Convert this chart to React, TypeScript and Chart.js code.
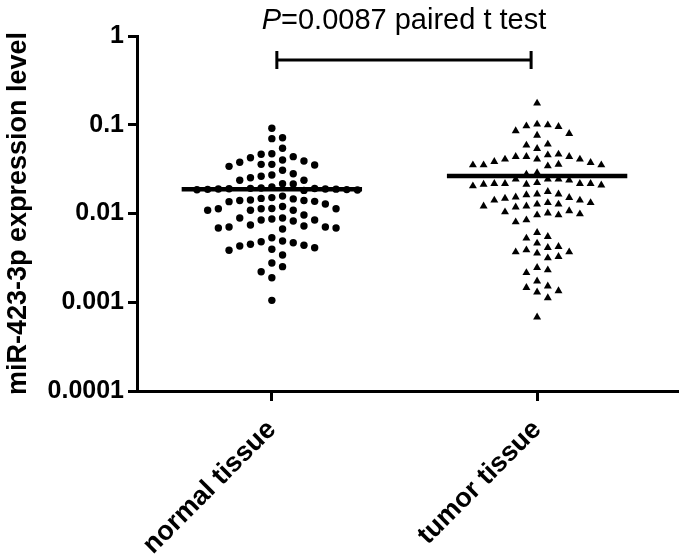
import React, { useEffect, useRef } from 'react';
import { Chart, registerables } from 'chart.js';

Chart.register(...registerables);

// ---------------- data ----------------
const categories = ['normal tissue', 'tumor tissue'];
const categoryPositions = [1, 2];

const yTickValues = [0.0001, 0.001, 0.01, 0.1, 1];
const yTickLabels = ['0.0001', '0.001', '0.01', '0.1', '1'];

const normalValues = [
  0.0912, 0.0697, 0.0715, 0.0543, 0.0425, 0.0472, 0.0465, 0.0401, 0.0437, 0.0391,
  0.0358, 0.0352, 0.0358, 0.0378, 0.034, 0.0307, 0.0272, 0.0263, 0.0281, 0.0237,
  0.0237, 0.0253, 0.0215, 0.0217,
  0.0199, 0.0192, 0.0189, 0.0194, 0.0186, 0.019, 0.0188, 0.0185, 0.0184, 0.0191,
  0.0187, 0.0182, 0.0189,
  0.0157, 0.0151, 0.0148, 0.0146, 0.0142, 0.0137, 0.0128, 0.0136, 0.014, 0.014,
  0.012,
  0.0114, 0.0113, 0.0109, 0.0109, 0.0109, 0.0113, 0.0113,
  0.00962, 0.0089, 0.00845, 0.00823, 0.00845, 0.00867, 0.0089,
  0.00687, 0.00742, 0.00687, 0.00723, 0.00669, 0.00705, 0.00705,
  0.00534, 0.00481, 0.0045, 0.0043, 0.00395, 0.00385, 0.00412, 0.00438, 0.00469, 0.0049,
  0.00341, 0.00277, 0.00252, 0.00221, 0.00189, 0.00105,
];

const tumorValues = [
  0.1745,
  0.0994, 0.0951, 0.0793, 0.0851, 0.076, 0.0968, 0.1012,
  0.0602, 0.0587, 0.0537,
  0.0456, 0.0437, 0.0437, 0.0408, 0.0408, 0.0437, 0.0465, 0.0408,
  0.0358, 0.0352, 0.0343, 0.0384, 0.0352, 0.0352, 0.0374,
  0.0288, 0.0277,
  0.0243, 0.0213, 0.0243, 0.0209, 0.0217, 0.0217, 0.0217, 0.0217, 0.0222, 0.0204, 0.0237, 0.0213, 0.0243,
  0.0176, 0.0165, 0.0162, 0.0165,
  0.0151, 0.0141, 0.0132, 0.0127, 0.0121, 0.0118, 0.0121, 0.0127, 0.0132, 0.0141, 0.0148, 0.0153,
  0.0107, 0.0101, 0.00962, 0.00845, 0.00802, 0.00962, 0.00987, 0.0104,
  0.00608, 0.00548, 0.00526, 0.00462, 0.00423,
  0.00412, 0.00368, 0.00356, 0.00315, 0.00326, 0.00368, 0.00388,
  0.00231, 0.00215, 0.00245,
  0.00173, 0.00152, 0.00146, 0.0013, 0.00134,
  0.00112,
  0.00068,
];

const groupMeans = [0.0188, 0.0265];

const pValueLabel = 'P';
const pValueRest = '=0.0087 paired t test';
const bracketLevel = 0.537;

const yAxisTitle = 'miR-423-3p expression level';

// ---------------- style / layout constants ----------------
const W = 683;
const H = 559;
const FONT = '"Liberation Sans", Arial, Helvetica, sans-serif';
const COL_SPACING = 10.7; // px between swarm columns
const MIN_GAP = 10; // px vertical gap in one column
const MEAN_HALF_WIDTH = 0.34; // x units

function layoutSwarm(chart: any) {
  const xs = chart.scales.x;
  const ys = chart.scales.y;
  const groups = [normalValues, tumorValues];
  groups.forEach((vals, gi) => {
    const cx = xs.getPixelForValue(categoryPositions[gi]);
    const order = vals.map((_, i) => i).sort((a, b) => vals[b] - vals[a]);
    const cols = new Map<number, number[]>();
    const out: any[] = new Array(vals.length);
    for (const i of order) {
      const py = ys.getPixelForValue(vals[i]);
      for (let s = 0; s < 400; s++) {
        const k = s === 0 ? 0 : s % 2 === 1 ? (s + 1) / 2 : -s / 2;
        const arr = cols.get(k) || [];
        if (arr.every((p) => Math.abs(p - py) >= MIN_GAP)) {
          arr.push(py);
          cols.set(k, arr);
          out[i] = { x: xs.getValueForPixel(cx + k * COL_SPACING), y: vals[i] };
          break;
        }
      }
    }
    chart.data.datasets[2 + gi].data = out;
  });
  chart.update('none');
}

const annotationPlugin = {
  id: 'pAnnotation',
  afterDraw(chart: any) {
    const { ctx, scales } = chart;
    const xs = scales.x;
    const ys = scales.y;
    const x1 = xs.getPixelForValue(categoryPositions[0]) + 5;
    const x2 = xs.getPixelForValue(categoryPositions[1]) - 6;
    const yb = ys.getPixelForValue(bracketLevel);
    ctx.save();
    ctx.strokeStyle = '#000';
    ctx.lineWidth = 3;
    ctx.beginPath();
    ctx.moveTo(x1, yb);
    ctx.lineTo(x2, yb);
    ctx.moveTo(x1, yb - 9);
    ctx.lineTo(x1, yb + 9);
    ctx.moveTo(x2, yb - 9);
    ctx.lineTo(x2, yb + 9);
    ctx.stroke();

    const italic = `italic 29px ${FONT}`;
    const normal = `29px ${FONT}`;
    ctx.font = italic;
    const wP = ctx.measureText(pValueLabel).width;
    ctx.font = normal;
    const wR = ctx.measureText(pValueRest).width;
    const cx = (x1 + x2) / 2;
    const sx = cx - (wP + wR) / 2;
    ctx.fillStyle = '#000';
    ctx.textBaseline = 'alphabetic';
    ctx.textAlign = 'left';
    ctx.font = italic;
    ctx.fillText(pValueLabel, sx, 29);
    ctx.font = normal;
    ctx.fillText(pValueRest, sx + wP, 29);
    ctx.restore();
  },
};

export default function App() {
  const ref = useRef<HTMLCanvasElement | null>(null);

  useEffect(() => {
    if (!ref.current) return;
    const meanLine = (gi: number) => [
      { x: categoryPositions[gi] - MEAN_HALF_WIDTH, y: groupMeans[gi] },
      { x: categoryPositions[gi] + MEAN_HALF_WIDTH, y: groupMeans[gi] },
    ];
    const chart = new Chart(ref.current, {
      type: 'scatter',
      data: {
        datasets: [
          {
            label: 'normal mean',
            data: meanLine(0),
            showLine: true,
            borderColor: '#000',
            borderWidth: 4.5,
            pointRadius: 0,
            order: 0,
          } as any,
          {
            label: 'tumor mean',
            data: meanLine(1),
            showLine: true,
            borderColor: '#000',
            borderWidth: 4.5,
            pointRadius: 0,
            order: 0,
          } as any,
          {
            label: categories[0],
            data: normalValues.map((v) => ({ x: categoryPositions[0], y: v })),
            pointStyle: 'circle',
            pointRadius: 3.7,
            pointBorderWidth: 0,
            backgroundColor: '#000',
            borderColor: '#000',
            order: 1,
          } as any,
          {
            label: categories[1],
            data: tumorValues.map((v) => ({ x: categoryPositions[1], y: v })),
            pointStyle: 'triangle',
            pointRadius: 4.6,
            pointBorderWidth: 0,
            backgroundColor: '#000',
            borderColor: '#000',
            order: 1,
          } as any,
        ],
      },
      options: {
        responsive: false,
        animation: false,
        devicePixelRatio: 1,
        layout: { padding: { top: 36, left: 0, right: 0, bottom: 0 } },
        plugins: {
          legend: { display: false },
          tooltip: { enabled: false },
        },
        scales: {
          x: {
            type: 'linear',
            min: 0.4916,
            max: 2.5327,
            afterBuildTicks: (s: any) => {
              s.ticks = categoryPositions.map((v) => ({ value: v }));
            },
            afterFit: (s: any) => {
              s.height = 168;
              s.paddingLeft = 0;
              s.paddingRight = 0;
            },
            border: { display: true, color: '#000', width: 3 },
            grid: {
              display: true,
              drawOnChartArea: false,
              drawTicks: true,
              tickLength: 10,
              tickWidth: 3,
              tickColor: '#000',
              color: '#000',
            },
            ticks: {
              autoSkip: false,
              minRotation: 45,
              maxRotation: 45,
              padding: 13,
              color: '#000',
              font: { family: FONT, size: 27, weight: 'bold' },
              callback: (_v: any, i: number) => categories[i],
            },
          },
          y: {
            type: 'logarithmic',
            min: 0.0001,
            max: 1,
            afterBuildTicks: (s: any) => {
              s.ticks = yTickValues.map((v) => ({ value: v }));
            },
            afterFit: (s: any) => {
              s.width = 137;
              s.paddingTop = 0;
              s.paddingBottom = 0;
            },
            border: { display: true, color: '#000', width: 3 },
            grid: {
              display: true,
              drawOnChartArea: false,
              drawTicks: true,
              tickLength: 9,
              tickWidth: 3,
              tickColor: '#000',
              color: '#000',
            },
            ticks: {
              autoSkip: false,
              padding: 4,
              color: '#000',
              font: { family: FONT, size: 25, weight: 'bold' },
              callback: (_v: any, i: number) => yTickLabels[i],
            },
            title: {
              display: true,
              text: yAxisTitle,
              color: '#000',
              padding: { top: 2, bottom: 0 },
              font: { family: FONT, size: 27, weight: 'bold' },
            },
          },
        },
      } as any,
      plugins: [annotationPlugin],
    });
    layoutSwarm(chart);
    return () => chart.destroy();
  }, []);

  return (
    <div style={{ position: 'fixed', left: 0, top: 0, width: W, height: H, background: '#fff' }}>
      <canvas ref={ref} width={W} height={H} style={{ display: 'block', width: W, height: H }} />
    </div>
  );
}
